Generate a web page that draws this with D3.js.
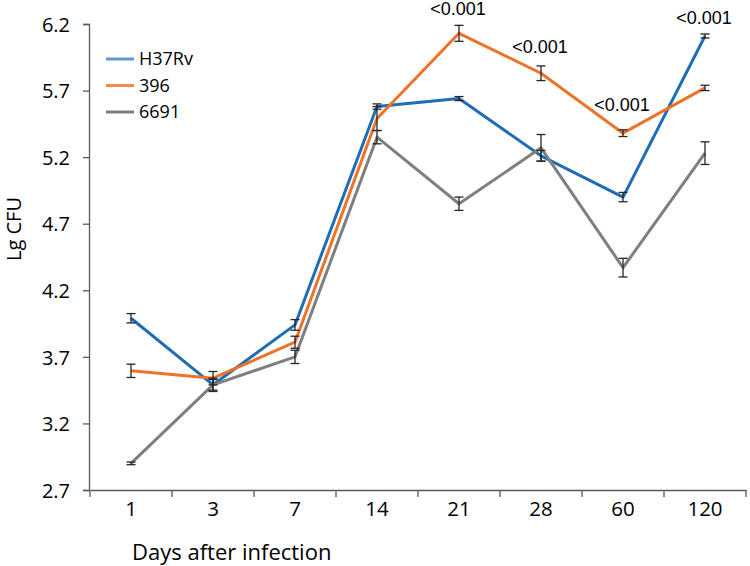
<!DOCTYPE html>
<html>
<head>
<meta charset="utf-8">
<script src="https://cdn.jsdelivr.net/npm/d3@7"></script>
<style>
  html, body { margin: 0; padding: 0; background: #fff; }
  svg { display: block; }
</style>
</head>
<body>
<svg id="chart" width="750" height="566"></svg>
<script>
const days = ["1", "3", "7", "14", "21", "28", "60", "120"];
const yTicks = [2.7, 3.2, 3.7, 4.2, 4.7, 5.2, 5.7, 6.2];

const h37rv    = [3.99, 3.49, 3.94, 5.58, 5.64, 5.21, 4.90, 6.11];
const h37rvErr = [0.035, 0.04, 0.04, 0.02, 0.015, 0.04, 0.035, 0.015];
const s396     = [3.595, 3.54, 3.81, 5.49, 6.13, 5.83, 5.38, 5.72];
const s396Err  = [0.05, 0.05, 0.045, 0.09, 0.06, 0.055, 0.025, 0.02];
const s6691    = [2.90, 3.49, 3.70, 5.35, 4.85, 5.27, 4.37, 5.23];
const s6691Err = [0.01, 0.05, 0.05, 0.05, 0.05, 0.10, 0.07, 0.085];

const pDays   = ["21", "28", "60", "120"];
const pLabels = ["<0.001", "<0.001", "<0.001", "<0.001"];
const pAt     = [6.265, 5.985, 5.55, 6.20];

const seriesNames = ["H37Rv", "396", "6691"];
const lineColors = ["#1f6db4", "#ed7328", "#7f7f7f"];
const legendColors = ["#5b9bd5", "#ed8c4e", "#7f7f7f"];

const series = [
  { name: seriesNames[0], values: h37rv, err: h37rvErr },
  { name: seriesNames[1], values: s396, err: s396Err },
  { name: seriesNames[2], values: s6691, err: s6691Err }
];

const svg = d3.select("#chart");
const axisFont = "'Open Sans', 'Noto Sans', sans-serif";

const x = d3.scaleBand().domain(days).range([90, 746]).padding(0);
const y = d3.scaleLinear().domain([2.7, 6.2]).range([490, 24]);
const cx = d => x(d) + x.bandwidth() / 2;

// Y axis
const yAxis = svg.append("g").attr("transform", "translate(89,0)")
  .call(d3.axisLeft(y).tickValues(yTicks).tickFormat(d3.format(".1f")).tickSizeOuter(0).tickSize(6).tickPadding(13));
yAxis.select(".domain").attr("stroke", "#595959").attr("stroke-width", 1.3);
yAxis.selectAll(".tick line").attr("stroke", "#595959").attr("stroke-width", 1.3);
yAxis.selectAll(".tick text").attr("font-family", axisFont).attr("font-size", 20).attr("fill", "#000").attr("dy", "0.36em");

// X axis
const xAxis = svg.append("g").attr("transform", "translate(0,490)")
  .call(d3.axisBottom(x).tickSize(0).tickSizeOuter(0).tickPadding(11));
xAxis.select(".domain").attr("stroke", "#595959").attr("stroke-width", 1.3);
xAxis.selectAll(".tick text").attr("font-family", axisFont).attr("font-size", 20.5).attr("fill", "#000");
// boundary ticks between categories
const bounds = days.map(d => x(d)).concat([x(days[days.length - 1]) + x.bandwidth()]);
svg.append("g").selectAll("line").data(bounds).join("line")
  .attr("x1", d => d).attr("x2", d => d)
  .attr("y1", 490).attr("y2", 497)
  .attr("stroke", "#595959").attr("stroke-width", 1.3);

// Axis titles
svg.append("text")
  .attr("transform", "translate(21,229) rotate(-90)")
  .attr("text-anchor", "middle")
  .attr("font-family", axisFont).attr("font-size", 20)
  .text("Lg CFU");
svg.append("text")
  .attr("x", 132).attr("y", 560)
  .attr("font-family", axisFont).attr("font-size", 22)
  .text("Days after infection");

// Lines
const line = d3.line().x((d, i) => cx(days[i])).y(d => y(d));
series.forEach((s, k) => {
  svg.append("path")
    .datum(s.values)
    .attr("fill", "none")
    .attr("stroke", lineColors[k])
    .attr("stroke-width", 3)
    .attr("stroke-linejoin", "round")
    .attr("d", line);
});

// Error bars
series.forEach((s, k) => {
  const g = svg.append("g").attr("stroke", "#262626").attr("stroke-width", 1.3);
  s.values.forEach((v, i) => {
    const xc = cx(days[i]);
    const y1 = y(v - s.err[i]), y2 = y(v + s.err[i]);
    g.append("line").attr("x1", xc).attr("x2", xc).attr("y1", y1).attr("y2", y2);
    g.append("line").attr("x1", xc - 4.5).attr("x2", xc + 4.5).attr("y1", y1).attr("y2", y1);
    g.append("line").attr("x1", xc - 4.5).attr("x2", xc + 4.5).attr("y1", y2).attr("y2", y2);
  });
});

// P-value labels
svg.append("g").selectAll("text").data(pDays).join("text")
  .attr("x", d => cx(d) - 1)
  .attr("y", (d, i) => y(pAt[i]))
  .attr("text-anchor", "middle")
  .attr("font-family", "'Liberation Sans', Arial, sans-serif")
  .attr("font-size", 18)
  .text((d, i) => pLabels[i]);

// Legend
const legendY = d3.scalePoint().domain(seriesNames).range([59, 112]);
const lg = svg.append("g");
seriesNames.forEach((n, k) => {
  lg.append("line")
    .attr("x1", 106).attr("x2", 134)
    .attr("y1", legendY(n)).attr("y2", legendY(n))
    .attr("stroke", legendColors[k]).attr("stroke-width", 3);
  lg.append("text")
    .attr("x", 139).attr("y", legendY(n))
    .attr("dy", "0.36em")
    .attr("font-family", axisFont).attr("font-size", 18)
    .text(n);
});
</script>
</body>
</html>
